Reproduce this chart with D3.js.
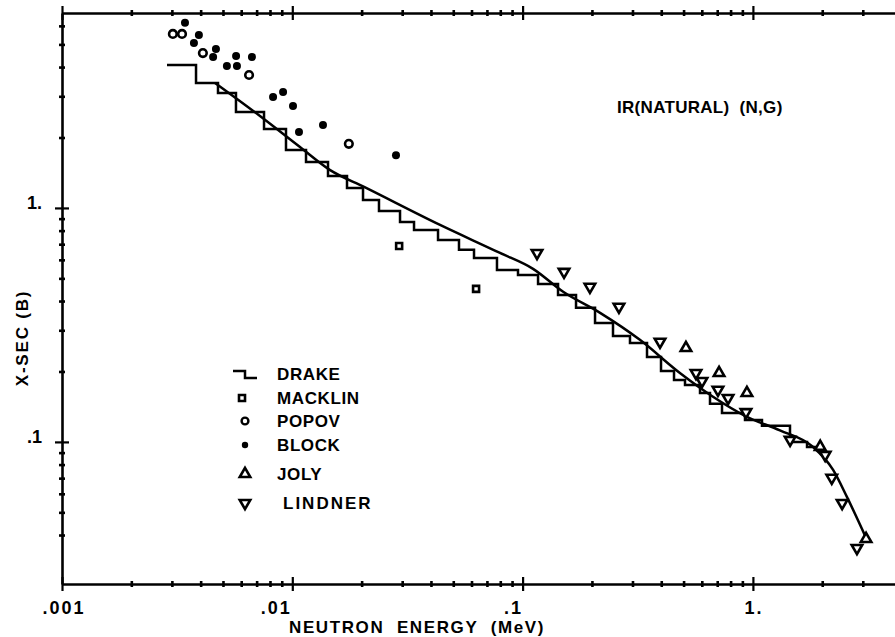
<!DOCTYPE html>
<html>
<head>
<meta charset="utf-8">
<script src="https://cdn.jsdelivr.net/npm/d3@7"></script>
<style>
  body { margin: 0; background: #fff; }
  svg { display: block; font-family: 'Liberation Sans', Arial, sans-serif; font-weight: bold; }
  svg text { white-space: pre; }
</style>
</head>
<body>
<svg id="chart" width="895" height="637"></svg>
<script>
// IR(NATURAL) (N,G) -- capture cross section (barns) vs neutron energy (MeV)

// Drake histogram: bin edges (MeV) and value in each bin (b)
let drakeEdges = [0.002857, 0.003819, 0.004757, 0.005694, 0.007537, 0.009389, 0.01147, 0.01429,
  0.01728, 0.02028, 0.02379, 0.02936, 0.03377, 0.04293, 0.05294, 0.06152, 0.0774, 0.0955,
  0.1167, 0.1425, 0.1706, 0.2063, 0.2469, 0.2926, 0.3469, 0.399, 0.4544, 0.5072, 0.5893,
  0.6512, 0.7342, 0.9241, 1.095, 1.449, 1.718, 1.956];
let drakeXsec = [4.084, 3.421, 3.101, 2.572, 2.176, 1.77, 1.573, 1.37, 1.218, 1.082, 0.971,
  0.871, 0.805, 0.73, 0.662, 0.611, 0.543, 0.517, 0.473, 0.425, 0.374, 0.3225, 0.2838,
  0.2649, 0.2308, 0.2011, 0.1841, 0.1752, 0.162, 0.1454, 0.133, 0.1242, 0.1171, 0.1,
  0.0952];

// evaluated curve
let evalEnergy = [0.00462, 0.00724, 0.0108, 0.0146, 0.0205, 0.0438, 0.0798, 0.111, 0.15,
  0.217, 0.323, 0.482, 0.671, 0.942, 1.31, 1.82, 2.23, 2.56, 3.13];
let evalXsec = [3.42, 2.47, 1.82, 1.45, 1.23, 0.846, 0.642, 0.549, 0.438, 0.356, 0.273,
  0.197, 0.156, 0.128, 0.112, 0.0953, 0.0759, 0.0582, 0.0381];

let macklinEnergy = [0.0291, 0.0628];
let macklinXsec = [0.688, 0.451];

let popovEnergy = [0.00303, 0.00332, 0.00409, 0.00649, 0.0176];
let popovXsec = [5.54, 5.54, 4.59, 3.70, 1.88];

let blockEnergy = [0.00342, 0.00393, 0.00374, 0.00466, 0.00453, 0.0057, 0.00668, 0.0052,
  0.00575, 0.00825, 0.00912, 0.01007, 0.01069, 0.01359, 0.0282];
let blockXsec = [6.18, 5.49, 5.07, 4.78, 4.42, 4.46, 4.42, 4.04, 4.04, 2.98, 3.13, 2.73,
  2.11, 2.26, 1.68];

let jolyEnergy = [0.512, 0.713, 0.942, 1.96, 3.10];
let jolyXsec = [0.252, 0.197, 0.162, 0.0953, 0.0385];

let lindnerEnergy = [0.1155, 0.1513, 0.196, 0.262, 0.395, 0.566, 0.601, 0.705, 0.78, 0.933,
  1.45, 2.06, 2.20, 2.44, 2.83];
let lindnerXsec = [0.642, 0.533, 0.46, 0.378, 0.268, 0.197, 0.182, 0.167, 0.154, 0.134,
  0.102, 0.088, 0.0702, 0.0548, 0.0352];

let xTickValues = [0.001, 0.01, 0.1, 1];
let xTickLabels = ['.001', '.01', '.1', '1.'];
let yTickValues = [0.1, 1];
let yTickLabels = ['.1', '1.'];

let legendNames = ['DRAKE', 'MACKLIN', 'POPOV', 'BLOCK', 'JOLY', 'LINDNER'];
let title = 'IR(NATURAL)  (N,G)';
let xTitle = 'NEUTRON  ENERGY  (MeV)';
let yTitle = 'X-SEC (B)';

let svg = d3.select('#chart');

let plotL = 62, plotR = 895, plotT = 13, plotB = 584;

let sx = d3.scaleLog().domain([0.001, 4.14]).range([plotL, plotR]);
let sy = d3.scaleLog().domain([0.0247, 6.81]).range([plotB, plotT]);

function logTicks(lo, hi) {
  let t = [];
  for (let p = -3; p <= 1; p++) {
    for (let m = 1; m <= 9; m++) {
      let v = m * Math.pow(10, p);
      if (v >= lo * 0.999 && v <= hi * 1.001) t.push(+v.toPrecision(3));
    }
  }
  return t;
}
function isMajor(v) {
  let l = Math.log10(v);
  return Math.abs(l - Math.round(l)) < 1e-6;
}

let xTicks = logTicks(0.001, 3);
let yTicks = logTicks(0.04, 6);

// axes: ticks cross the line, decades longer
function drawAxis(axis, transform, horizontal) {
  let g = svg.append('g').attr('transform', transform).call(axis);
  g.select('.domain').attr('stroke', '#000').attr('stroke-width', 2.6);
  g.selectAll('.tick line').each(function(d) {
    let s = isMajor(d) ? 7 : 3;
    let l = d3.select(this).attr('stroke', '#000').attr('stroke-width', isMajor(d) ? 2.2 : 2.6);
    if (horizontal) l.attr('y1', -s).attr('y2', s);
    else l.attr('x1', -s).attr('x2', s);
  });
  g.selectAll('.tick text').remove();
  return g;
}

drawAxis(d3.axisBottom(sx).tickValues(xTicks).tickSizeOuter(0), `translate(0,${plotB})`, true);
drawAxis(d3.axisTop(sx).tickValues(xTicks).tickSizeOuter(0), `translate(0,${plotT})`, true);
drawAxis(d3.axisLeft(sy).tickValues(yTicks).tickSizeOuter(0), `translate(${plotL},0)`, false);

// tick labels
let xLabelShift = [2, -16, -9, 1];
svg.append('g').selectAll('text')
  .data(xTickValues)
  .join('text')
    .attr('x', (d, i) => sx(d) + xLabelShift[i])
    .attr('y', 614)
    .attr('text-anchor', 'middle')
    .attr('font-size', 18)
    .attr('letter-spacing', 2)
    .text((d, i) => xTickLabels[i]);

svg.append('g').selectAll('text')
  .data(yTickValues)
  .join('text')
    .attr('x', 42)
    .attr('y', d => sy(d) + 1)
    .attr('text-anchor', 'end')
    .attr('font-size', 18)
    .text((d, i) => yTickLabels[i]);

svg.append('text')
  .attr('x', 417).attr('y', 633)
  .attr('text-anchor', 'middle')
  .attr('font-size', 17)
  .attr('letter-spacing', 1.6)
  .text(xTitle);

svg.append('text')
  .attr('transform', 'translate(28,338) rotate(-90)')
  .attr('text-anchor', 'middle')
  .attr('font-size', 17)
  .attr('letter-spacing', 1.8)
  .text(yTitle);

svg.append('text')
  .attr('x', 617).attr('y', 113)
  .attr('font-size', 17)
  .attr('letter-spacing', 0.3)
  .text(title);

// drake histogram
let drakePts = drakeXsec.map((v, i) => [drakeEdges[i], v]);
drakePts.push([drakeEdges[drakeEdges.length - 1], drakeXsec[drakeXsec.length - 1]]);

svg.append('path')
  .attr('d', d3.line().x(d => sx(d[0])).y(d => sy(d[1])).curve(d3.curveStepAfter)(drakePts))
  .attr('fill', 'none')
  .attr('stroke', '#000')
  .attr('stroke-width', 2.5)
  .attr('stroke-linejoin', 'miter');

svg.append('path')
  .attr('d', d3.line().x(d => sx(d[0])).y(d => sy(d[1])).curve(d3.curveMonotoneX)(evalEnergy.map((e, i) => [e, evalXsec[i]])))
  .attr('fill', 'none')
  .attr('stroke', '#000')
  .attr('stroke-width', 2.5);

// markers
let tri = d3.symbol().type(d3.symbolTriangle).size(48);
let sq = d3.symbol().type(d3.symbolSquare).size(36);

function points(en, xs) { return en.map((e, i) => [e, xs[i]]); }

let marks = svg.append('g');

marks.selectAll('.macklin')
  .data(points(macklinEnergy, macklinXsec))
  .join('path')
    .attr('class', 'macklin')
    .attr('d', sq)
    .attr('transform', d => `translate(${sx(d[0])},${sy(d[1])})`)
    .attr('fill', '#fff').attr('stroke', '#000').attr('stroke-width', 2.6);

marks.selectAll('.popov')
  .data(points(popovEnergy, popovXsec))
  .join('circle')
    .attr('class', 'popov')
    .attr('cx', d => sx(d[0])).attr('cy', d => sy(d[1]))
    .attr('r', 3.8)
    .attr('fill', '#fff').attr('stroke', '#000').attr('stroke-width', 2.6);

marks.selectAll('.block')
  .data(points(blockEnergy, blockXsec))
  .join('circle')
    .attr('class', 'block')
    .attr('cx', d => sx(d[0])).attr('cy', d => sy(d[1]))
    .attr('r', 4)
    .attr('fill', '#000');

marks.selectAll('.joly')
  .data(points(jolyEnergy, jolyXsec))
  .join('path')
    .attr('class', 'joly')
    .attr('d', tri)
    .attr('transform', d => `translate(${sx(d[0])},${sy(d[1])})`)
    .attr('fill', '#fff').attr('stroke', '#000').attr('stroke-width', 2.6);

marks.selectAll('.lindner')
  .data(points(lindnerEnergy, lindnerXsec))
  .join('path')
    .attr('class', 'lindner')
    .attr('d', tri)
    .attr('transform', d => `translate(${sx(d[0])},${sy(d[1])}) rotate(180)`)
    .attr('fill', '#fff').attr('stroke', '#000').attr('stroke-width', 2.6);

// legend
let legY = [374, 398, 421, 445, 474, 503];
let lg = svg.append('g');
let symX = 245;

lg.append('path')
  .attr('d', `M${symX - 12},${legY[0] - 3}H${symX}V${legY[0] + 4}H${symX + 12}`)
  .attr('fill', 'none').attr('stroke', '#000').attr('stroke-width', 2.5);
lg.append('path')
  .attr('d', sq).attr('transform', `translate(${symX - 3},${legY[1]})`)
  .attr('fill', '#fff').attr('stroke', '#000').attr('stroke-width', 2.6);
lg.append('circle')
  .attr('cx', symX).attr('cy', legY[2]).attr('r', 3.4)
  .attr('fill', '#fff').attr('stroke', '#000').attr('stroke-width', 2.4);
lg.append('circle')
  .attr('cx', symX).attr('cy', legY[3]).attr('r', 3.2)
  .attr('fill', '#000');
lg.append('path')
  .attr('d', tri).attr('transform', `translate(${symX},${legY[4]})`)
  .attr('fill', '#fff').attr('stroke', '#000').attr('stroke-width', 2.6);
lg.append('path')
  .attr('d', tri).attr('transform', `translate(${symX},${legY[5]}) rotate(180)`)
  .attr('fill', '#fff').attr('stroke', '#000').attr('stroke-width', 2.6);

lg.selectAll('text')
  .data(legendNames)
  .join('text')
    .attr('x', (d, i) => i === 5 ? 283 : 277)
    .attr('y', (d, i) => legY[i] + 6)
    .attr('font-size', 17)
    .attr('letter-spacing', (d, i) => i === 5 ? 2 : 0.6)
    .text(d => d);
</script>
</body>
</html>
